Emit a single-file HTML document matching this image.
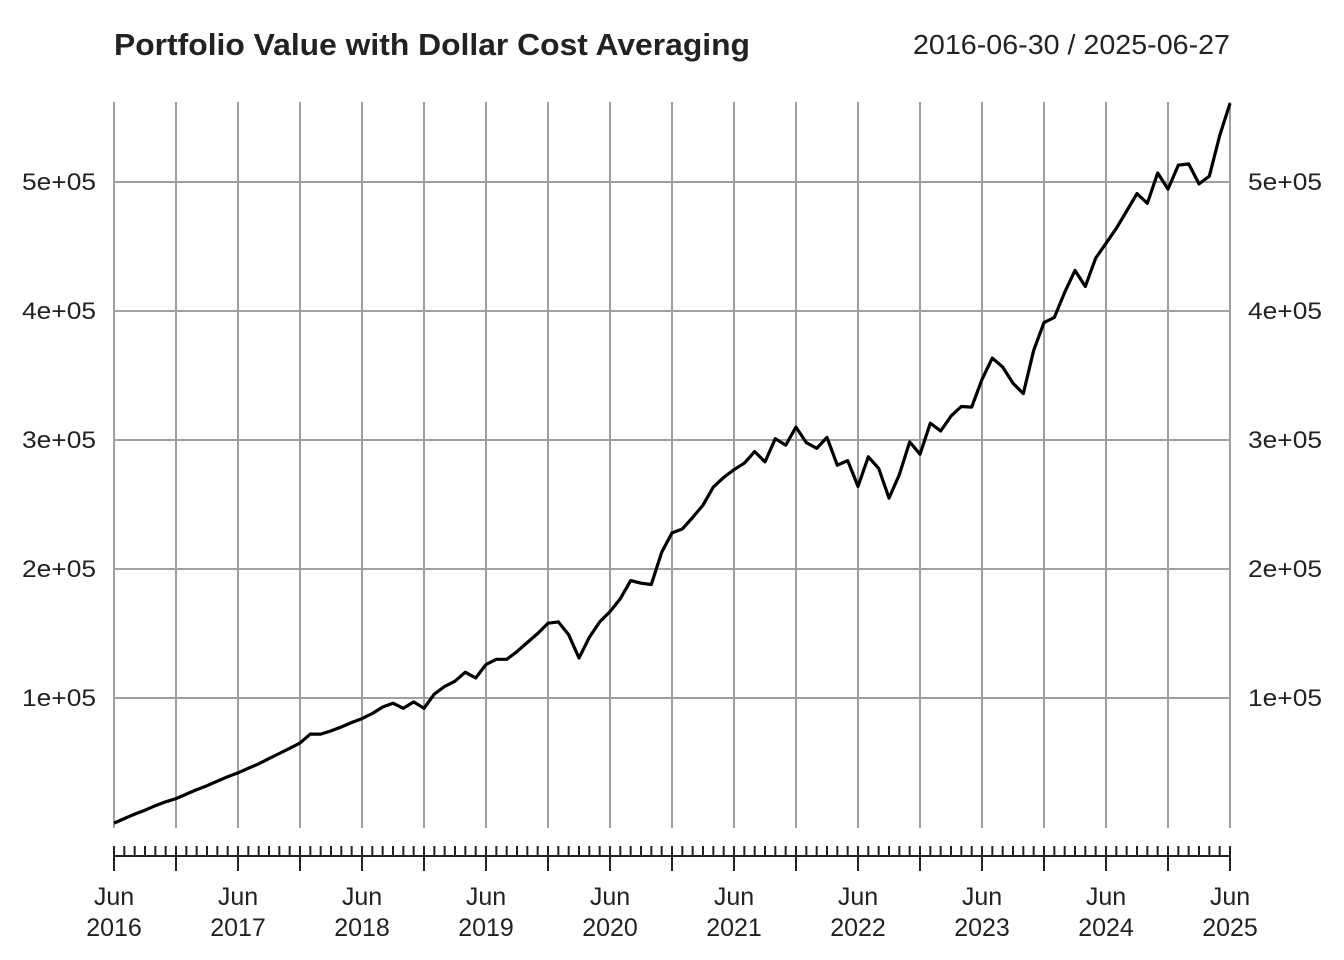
<!DOCTYPE html>
<html><head><meta charset="utf-8"><style>
html,body{margin:0;padding:0;background:#fff;}
svg{display:block;font-family:"Liberation Sans",Arial,sans-serif;}
</style></head><body>
<svg id="chart" width="1344" height="960" viewBox="0 0 1344 960" xmlns="http://www.w3.org/2000/svg">
<text x="114" y="55" font-size="31" font-weight="bold" fill="#222" textLength="636" lengthAdjust="spacingAndGlyphs">Portfolio Value with Dollar Cost Averaging</text>
<text x="1230" y="54" font-size="28" text-anchor="end" fill="#222" textLength="317" lengthAdjust="spacingAndGlyphs">2016-06-30 / 2025-06-27</text>
<g id="grid"></g>
<g id="axes"></g>
<g id="series"></g>
</svg>
<script>
const values = [3,6.5,10,13,16.5,19.5,22,25.5,29,32,35.5,39,42,45.5,49,53,57,61,65,72,72,74.5,77.5,81,84,88,93,96,92,97,92,103,109,113,120,115.5,126,130,130,136,143,150,158,159,149,131,147,159,167,177,191,189,188,213,228,231,240,249.5,263.5,271,277,282,291,283,301,296,310,298,293.5,302,280.5,284,264,287,278,255,273,298.5,289,313,307,318.5,326,325.5,347,363.5,356.5,344,336,369.5,391,395,414.5,431.5,419,441,452.5,464,477.5,491,483.5,507,494.5,513,514,498.5,504.5,536,561];
const yTicks = [100000,200000,300000,400000,500000];
const yTickLabels = ["1e+05","2e+05","3e+05","4e+05","5e+05"];
const xYears = ["2016","2017","2018","2019","2020","2021","2022","2023","2024","2025"];
const startMonth = 0, totalMonths = 108;

const NS="http://www.w3.org/2000/svg";
const X0=114, X1=1230, Y0=827, PXPER=129/100000;
const xs = m => X0 + (m-startMonth)*(X1-X0)/totalMonths;
const ys = v => Y0 - v*PXPER;
function mk(tag, attrs, parent){const e=document.createElementNS(NS,tag);for(const k in attrs)e.setAttribute(k,attrs[k]);parent.appendChild(e);return e;}
const grid=document.getElementById('grid'), axes=document.getElementById('axes'), series=document.getElementById('series');

for(let m=0;m<=totalMonths;m+=6){
  const l=mk('line',{x1:xs(m),x2:xs(m),y1:102,y2:828,stroke:'#a0a0a0','stroke-width':2},grid);
  
  
}
yTicks.forEach((t,i)=>{
  const l=mk('line',{x1:X0,x2:X1,y1:ys(t),y2:ys(t),stroke:'#a0a0a0','stroke-width':2},grid);
  
  
  const a=mk('text',{x:96,y:ys(t)+8,'font-size':24,'text-anchor':'end',fill:'#222',textLength:74,lengthAdjust:'spacingAndGlyphs'},axes);
  a.textContent=yTickLabels[i];
  
  
  const b=mk('text',{x:1248,y:ys(t)+8,'font-size':24,fill:'#222',textLength:74,lengthAdjust:'spacingAndGlyphs'},axes);
  b.textContent=yTickLabels[i];
  
  
});
const ax=mk('line',{x1:X0,x2:X1,y1:856,y2:856,stroke:'#222','stroke-width':2},axes);


for(let m=0;m<=totalMonths;m++){
  const major=m%6===0;
  const t=mk('line',{x1:xs(m),x2:xs(m),y1:846,y2:major?871:856,stroke:'#222','stroke-width':2},axes);
  
  
}
xYears.forEach((yr,i)=>{
  const x=xs(i*12);
  const a=mk('text',{x:x,y:905,'font-size':25,'text-anchor':'middle',fill:'#222'},axes);
  a.textContent='Jun';
  
  
  const b=mk('text',{x:x,y:936,'font-size':25,'text-anchor':'middle',fill:'#222'},axes);
  b.textContent=yr;
  
  
});
const pts=values.map((v,i)=>xs(startMonth+i).toFixed(1)+','+ys(v*1000).toFixed(1)).join(' ');
const pl=mk('polyline',{points:pts,fill:'none',stroke:'#000','stroke-width':3.2,'stroke-linejoin':'round'},series);


</script>
</body></html>
